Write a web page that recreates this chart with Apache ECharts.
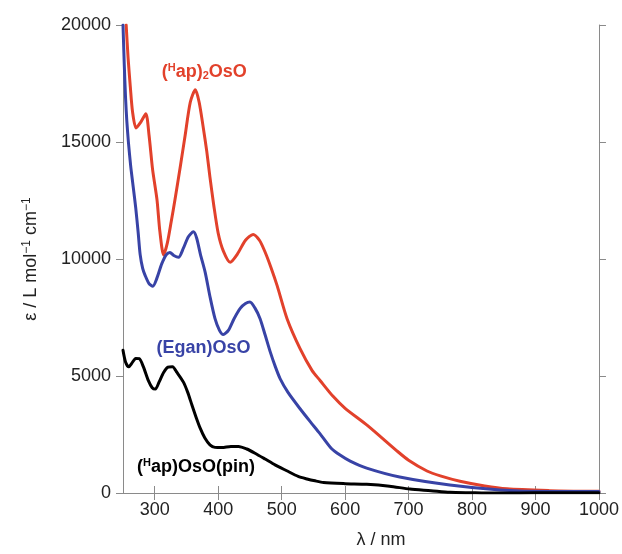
<!DOCTYPE html>
<html>
<head>
<meta charset="utf-8">
<script src="https://cdn.jsdelivr.net/npm/echarts@6/dist/echarts.min.js"></script>
<style>
  html, body { margin: 0; padding: 0; background: #fff; }
  #uvChart { width: 622px; height: 554px; }
</style>
</head>
<body>
<div id="uvChart"></div>
<script>
// wavelength (nm) / epsilon (L mol-1 cm-1)
const hap2Nm = [255, 258, 261.5, 265, 270.5, 278, 286, 291, 296.6, 303.5, 308, 314, 320, 326, 332, 340, 348, 356, 364, 370, 376, 382, 387, 393, 400, 408, 419, 430, 443, 455, 465, 474, 483, 493, 508.5, 529, 548, 560.5, 581, 600, 635, 682, 700, 729, 750, 781, 820, 855, 922, 960, 1000]
const hap2Eps = [20000, 18600, 17370, 16300, 15600, 15850, 16210, 15300, 13830, 12550, 11200, 10170, 10700, 11600, 12550, 13900, 15300, 16700, 17230, 16700, 15700, 14600, 13500, 12300, 11100, 10350, 9860, 10200, 10800, 11050, 10800, 10290, 9650, 8850, 7450, 6170, 5230, 4810, 4130, 3620, 2890, 1790, 1400, 940, 730, 500, 300, 180, 100, 80, 70]

const eganNm = [250, 252, 254, 256, 258.5, 262, 266, 270, 274, 277, 281, 285, 291, 297, 303, 311, 318, 324, 330, 337.5, 345, 353, 361, 366, 372, 379.5, 387, 395, 402, 408, 416, 425, 435, 443, 450, 458, 466, 474, 482, 490, 497.5, 510, 529, 545, 560, 578, 592, 608, 634, 686, 765, 844, 922, 1000]
const eganEps = [20000, 18300, 16900, 15900, 15000, 14000, 13100, 12200, 11100, 10200, 9600, 9290, 8950, 8840, 9150, 9790, 10180, 10280, 10150, 10070, 10450, 10950, 11160, 10900, 10200, 9430, 8400, 7450, 6950, 6770, 6950, 7450, 7900, 8100, 8160, 7900, 7450, 6750, 6030, 5400, 4890, 4300, 3600, 3050, 2550, 1915, 1620, 1360, 1060, 680, 340, 130, 65, 65]

const pinNm = [250, 254, 259, 264, 270, 275.6, 282, 290, 296, 301, 307, 314, 321, 328, 335, 345, 352, 358.6, 365, 371.6, 379, 387, 395, 405.8, 420, 432, 445, 458, 474, 489.6, 508, 526, 540, 552.6, 566, 600, 634, 670, 702, 735, 765, 800, 817, 850, 900, 950, 1000]
const pinEps = [6100, 5600, 5390, 5550, 5750, 5740, 5400, 4800, 4500, 4440, 4750, 5150, 5380, 5400, 5150, 4750, 4300, 3760, 3250, 2770, 2350, 2060, 1950, 1940, 1990, 1990, 1880, 1700, 1450, 1200, 950, 710, 600, 520, 450, 400, 370, 290, 170, 100, 30, 10, 0, 0, 10, 10, 10]

const xTicks = [300, 400, 500, 600, 700, 800, 900, 1000]
const yTicks = [0, 5000, 10000, 15000, 20000]

const pair = (xs, ys) => xs.map((x, i) => [x, ys[i]])

const axisColor = '#8a8a8a'
const labelFont = 'Liberation Sans, Arial, sans-serif'

const chartDom = document.getElementById('uvChart')
const uvChart = echarts.init(chartDom)

const xBase = {
  type: 'value',
  min: 250,
  max: 1000,
  axisLine: { show: true, lineStyle: { color: axisColor, width: 1 } },
  axisTick: { show: true, length: 7, customValues: xTicks, lineStyle: { color: axisColor } },
  splitLine: { show: false }
}
const yBase = {
  type: 'value',
  min: 0,
  max: 20000,
  interval: 5000,
  axisLine: { show: true, lineStyle: { color: axisColor, width: 1 } },
  axisTick: { show: true, length: 7, lineStyle: { color: axisColor } },
  splitLine: { show: false }
}

const lineSeries = (name, data, color, z) => ({
  name: name,
  type: 'line',
  data: data,
  showSymbol: false,
  smooth: 0.25,
  clip: true,
  lineStyle: { color: color, width: 3, cap: 'round', join: 'round' },
  z: z
})

const option = {
  animation: false,
  grid: { left: 123, right: 23, top: 25, bottom: 59 },
  xAxis: [
    Object.assign({}, xBase, {
      position: 'bottom',
      name: 'λ / nm',
      nameLocation: 'middle',
      nameGap: 38,
      nameTextStyle: { fontFamily: labelFont, fontSize: 18, color: '#222', padding: [0, 0, 0, 40] },
      axisLabel: {
        show: true,
        customValues: xTicks,
        margin: 8,
        fontFamily: labelFont,
        fontSize: 18,
        color: '#222',
        formatter: v => String(v)
      }
    }),
    Object.assign({}, xBase, {
      position: 'top',
      axisLabel: { show: false }
    })
  ],
  yAxis: [
    Object.assign({}, yBase, {
      position: 'left',
      name: 'ε / L mol{sup|−1} cm{sup|−1}',
      nameLocation: 'middle',
      nameGap: 82,
      nameTextStyle: {
        fontFamily: labelFont,
        fontSize: 18,
        color: '#222',
        rich: {
          sup: { fontFamily: labelFont, fontSize: 12, color: '#222', verticalAlign: 'top', padding: [0, 0, 8, 0] }
        }
      },
      axisLabel: {
        show: true,
        margin: 12,
        fontFamily: labelFont,
        fontSize: 18,
        color: '#222',
        formatter: v => String(v)
      }
    }),
    Object.assign({}, yBase, {
      position: 'right',
      axisLabel: { show: false }
    })
  ],
  series: [
    lineSeries('(Hap)2OsO', pair(hap2Nm, hap2Eps), '#e2412b', 3),
    lineSeries('(Egan)OsO', pair(eganNm, eganEps), '#3843a6', 4),
    lineSeries('(Hap)OsO(pin)', pair(pinNm, pinEps), '#000000', 5)
  ]
}

uvChart.setOption(option)

// curve labels anchored at data coordinates
const curveLabels = [
  { at: [378, 18000], color: '#e2412b', text: '{p|(}{sup|H}{p|ap)}{sub|2}{p|OsO}' },
  { at: [376.7, 6210], color: '#3843a6', text: '{p|(Egan)OsO}' },
  { at: [365, 1110], color: '#000000', text: '{p|(}{sup|H}{p|ap)OsO(pin)}' }
]

uvChart.setOption({
  graphic: curveLabels.map(l => {
    const pt = uvChart.convertToPixel({ gridIndex: 0 }, l.at)
    return {
      type: 'text',
      x: pt[0],
      y: pt[1],
      z: 10,
      style: {
        text: l.text,
        align: 'center',
        verticalAlign: 'middle',
        rich: {
          p: { fontFamily: labelFont, fontWeight: 'bold', fontSize: 18, fill: l.color },
          sup: { fontFamily: labelFont, fontWeight: 'bold', fontSize: 11, fill: l.color, verticalAlign: 'top', padding: [0, 0, 8, 0] },
          sub: { fontFamily: labelFont, fontWeight: 'bold', fontSize: 11, fill: l.color, verticalAlign: 'bottom', padding: [8, 0, 0, 0] }
        }
      }
    }
  })
})
</script>
</body>
</html>
